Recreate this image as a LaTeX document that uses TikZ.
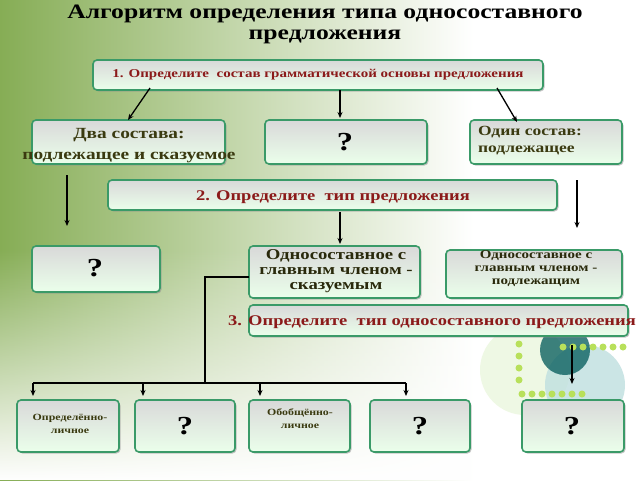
\documentclass[tikz,border=0pt]{standalone}
\usepackage{fontspec}
\setmainfont{Liberation Serif}[FakeStretch=1.25]
\usetikzlibrary{arrows.meta,shadows,fadings}
\definecolor{bord}{HTML}{3A9A68}
\definecolor{dred}{HTML}{8B1A1A}
\definecolor{olive}{HTML}{3A3A10}
\definecolor{bg1}{HTML}{86AD55}
\pgfdeclarehorizontalshading{bgsh}{100bp}{color(0bp)=(bg1!70!white); color(8bp)=(bg1); color(25bp)=(bg1); color(45bp)=(bg1!45!white); color(62bp)=(white); color(100bp)=(white)}
\begin{document}
\begin{tikzpicture}[x=1pt,y=-1pt,
 bx/.style={draw=bord,line width=1.6pt,rounded corners=4pt,top color=black!15,bottom color=green!8!white,
   drop shadow={shadow xshift=1.5pt,shadow yshift=-1.5pt,fill=black!45}},
 ar/.style={-{Stealth[length=6pt,width=5pt]},line width=1.3pt},
 ln/.style={line width=1.6pt},
 q/.style={font=\bfseries\fontsize{26}{26}\selectfont}]
\useasboundingbox (0,0) rectangle (640,480);
\shade[shading=bgsh] (0,0) rectangle (640,480);
\fill[white,path fading=north] (0,250) rectangle (640,480);
% decoration
\fill[yellow!40!green!15,opacity=.7] (525,370) circle (45);
\fill[teal!25,opacity=.8] (585,385) circle (40);
\fill[teal!70!black,opacity=.75] (565,350) circle (25);
\foreach \i in {0,...,6}{\fill[yellow!60!green!70] (522+\i*10,394) circle (3.5);}
\foreach \i in {0,...,6}{\fill[yellow!60!green!70] (563+\i*10,347) circle (3.5);}
\foreach \j in {0,...,5}{\fill[yellow!60!green!70] (519,320+\j*12) circle (3.5);}
% title
\node[font=\bfseries\fontsize{20.5}{21}\selectfont,align=center] (t) at (325,24) {Алгоритм определения типа односоставного\\предложения};
% boxes
\path[bx] (93,60) rectangle (543,90); \node[text=dred,font=\bfseries\fontsize{12}{12}\selectfont] (b1) at (318,75) {1. Определите\ \ состав грамматической основы предложения};
\path[bx] (32,120) rectangle (225,164); \node[text=olive,font=\bfseries\fontsize{15.5}{21}\selectfont,align=center] (two) at (129,146) {Два состава:\\подлежащее и сказуемое};
\path[bx] (265,120) rectangle (427,164); \node[q] (q1) at (345,142) {?};
\path[bx] (470,120) rectangle (622,164); \node[text=olive,font=\bfseries\fontsize{14}{17}\selectfont,align=left] (one) at (530,141) {Один состав:\\подлежащее};
\path[bx] (108,180) rectangle (557,210); \node[text=dred,font=\bfseries\fontsize{14.8}{15}\selectfont] (b2) at (333,197) {2. Определите\ \ тип предложения};
\path[bx] (32,246) rectangle (160,292); \node[q] (q2) at (95,268) {?};
\path[bx] (249,246) rectangle (420,298); \node[text=olive!70!black,font=\bfseries\fontsize{15}{15}\selectfont,align=center] (sk) at (336,271) {Односоставное с\\главным членом -\\сказуемым};
\path[bx] (446,250) rectangle (622,298); \node[text=olive!70!black,font=\bfseries\fontsize{12}{13}\selectfont,align=center] (pd) at (536,269) {Односоставное с\\главным членом -\\подлежащим};
\path[bx] (249,305) rectangle (628,336); \node[text=dred,font=\bfseries\fontsize{14.8}{15}\selectfont] (b3) at (432,322) {3. Определите\ \ тип односоставного предложения};
\path[bx] (17,400) rectangle (119,452); \node[text=olive,font=\bfseries\fontsize{9.5}{13}\selectfont,align=center] (c1) at (70,424) {Определённо-\\личное};
\path[bx] (135,400) rectangle (235,452); \node[q] (c2) at (185,426) {?};
\path[bx] (249,400) rectangle (350,452); \node[text=olive,font=\bfseries\fontsize{9.5}{13}\selectfont,align=center] (c3) at (300,419) {Обобщённо-\\личное};
\path[bx] (370,400) rectangle (470,452); \node[q] (c4) at (420,426) {?};
\path[bx] (522,400) rectangle (624,452); \node[q] (c5) at (572,426) {?};
% arrows
\coordinate (a1) at (150,88); \coordinate (a1e) at (128,120);
\coordinate (a2) at (340,90); \coordinate (a2e) at (340,118);
\coordinate (a3) at (497,88); \coordinate (a3e) at (517,122);
\coordinate (a4) at (67,175); \coordinate (a4e) at (67,226);
\coordinate (a5) at (577,180); \coordinate (a5e) at (577,228);
\coordinate (a6) at (340,212); \coordinate (a6e) at (340,244);
\coordinate (a7) at (572,345); \coordinate (a7e) at (572,384);
\draw[ar] (a1)--(a1e); \draw[ar] (a2)--(a2e); \draw[ar] (a3)--(a3e);
\draw[ar] (a4)--(a4e); \draw[ar] (a5)--(a5e); \draw[ar] (a6)--(a6e); \draw[ar] (a7)--(a7e);
\coordinate (j0) at (249,277); \coordinate (j1) at (205,277); \coordinate (j2) at (205,383);
\draw[ln] (j0)--(j1)--(j2);
\draw[ln] (33,383)--(406,383);
\foreach \x in {33,143,260,406}{\draw[ar,line width=1.6pt] (\x,383)--(\x,396);}
\end{tikzpicture}
\end{document}
